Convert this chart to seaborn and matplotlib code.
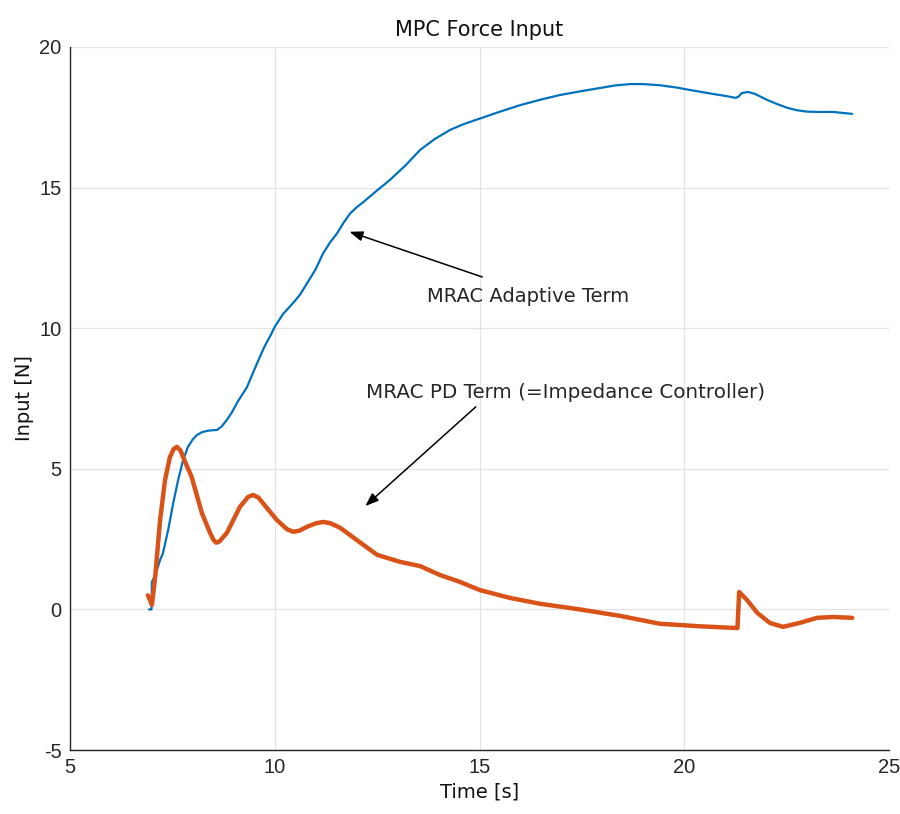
import pandas as pd
import numpy as np
import seaborn as sns
import matplotlib.pyplot as plt

# 適応項 (MRAC Adaptive Term)
adaptive_t = [6.93, 6.99, 7.0, 7.1, 7.2, 7.27, 7.4, 7.52, 7.64, 7.76, 7.88, 8.0, 8.1, 8.22,
              8.35, 8.47, 8.59, 8.7, 8.83, 8.95, 9.1, 9.32, 9.57, 9.75, 9.9, 10.0, 10.2,
              10.45, 10.62, 10.79, 11.0, 11.18, 11.35, 11.52, 11.68, 11.84, 12.0, 12.15,
              12.5, 12.81, 13.2, 13.55, 13.9, 14.28, 14.6, 15.0, 15.5, 15.99, 16.5, 16.96,
              17.45, 17.94, 18.3, 18.67, 19.0, 19.4, 19.8, 20.14, 20.7, 21.0, 21.26, 21.33,
              21.4, 21.56, 21.73, 21.88, 22.02, 22.25, 22.51, 22.75, 23.0, 23.3, 23.63,
              23.9, 24.1]
adaptive_u = [0.0, 0.0, 0.97, 1.3, 1.76, 2.0, 2.85, 3.78, 4.6, 5.3, 5.78, 6.05, 6.2, 6.3,
              6.35, 6.37, 6.38, 6.5, 6.74, 7.0, 7.4, 7.9, 8.76, 9.35, 9.75, 10.05, 10.5,
              10.9, 11.2, 11.6, 12.1, 12.66, 13.05, 13.37, 13.75, 14.08, 14.3, 14.47,
              14.9, 15.27, 15.8, 16.34, 16.72, 17.05, 17.25, 17.45, 17.7, 17.93, 18.13,
              18.29, 18.42, 18.54, 18.63, 18.68, 18.68, 18.64, 18.56, 18.47, 18.33, 18.26,
              18.19, 18.24, 18.36, 18.4, 18.33, 18.22, 18.12, 17.98, 17.84, 17.75, 17.7,
              17.69, 17.69, 17.65, 17.62]

# PD項 (MRAC PD Term)
pd_t = [6.9, 6.95, 7.0, 7.08, 7.2, 7.32, 7.44, 7.53, 7.61, 7.7, 7.76, 7.97, 8.22, 8.42,
        8.5, 8.57, 8.65, 8.83, 9.15, 9.35, 9.47, 9.6, 9.71, 10.05, 10.3, 10.45, 10.6,
        10.79, 11.0, 11.18, 11.35, 11.6, 12.0, 12.5, 13.06, 13.55, 14.04, 14.52, 15.0,
        15.74, 16.48, 17.45, 18.43, 19.4, 20.38, 21.24, 21.3, 21.34, 21.53, 21.78, 22.09,
        22.41, 22.82, 23.24, 23.63, 24.1]
pd_u = [0.5, 0.35, 0.16, 1.16, 3.18, 4.6, 5.42, 5.7, 5.78, 5.65, 5.42, 4.71, 3.43, 2.72,
        2.48, 2.37, 2.42, 2.72, 3.65, 4.0, 4.07, 3.98, 3.78, 3.18, 2.85, 2.76, 2.8,
        2.94, 3.06, 3.11, 3.07, 2.9, 2.47, 1.94, 1.69, 1.54, 1.22, 0.98, 0.69,
        0.41, 0.2, 0.0, -0.23, -0.51, -0.6, -0.66, -0.66, 0.62, 0.34, -0.12, -0.48,
        -0.62, -0.48, -0.3, -0.27, -0.3]

x_ticks = [5, 10, 15, 20, 25]
y_ticks = [-5, 0, 5, 10, 15, 20]

df_a = pd.DataFrame({"t": adaptive_t, "u": adaptive_u})
df_p = pd.DataFrame({"t": pd_t, "u": pd_u})

sns.set_style("white")
plt.rcParams["font.family"] = ["DejaVu Sans"]

fig = plt.figure(figsize=(9, 8.14), dpi=100)
ax = fig.add_axes([0.0778, 0.0786, 0.91, 0.8637])

sns.lineplot(data=df_a, x="t", y="u", ax=ax, color="#0072BD", linewidth=1.6,
             sort=False, estimator=None)
sns.lineplot(data=df_p, x="t", y="u", ax=ax, color="#D95319", linewidth=3.2,
             sort=False, estimator=None)

ax.set_xlim(5, 25)
ax.set_ylim(-5, 20)
ax.set_xticks(x_ticks)
ax.set_yticks(y_ticks)
ax.set_xticklabels([str(v) for v in x_ticks], family="Liberation Sans", fontsize=14.5, color="#262626")
ax.set_yticklabels([str(v) for v in y_ticks], family="Liberation Sans", fontsize=14.5, color="#262626")
ax.tick_params(direction="in", length=7, width=1, color="#262626", pad=6)
ax.grid(True, color="#e3e3e3", linewidth=0.9)
ax.set_axisbelow(True)
for s in ["top", "right"]:
    ax.spines[s].set_visible(False)
for s in ["left", "bottom"]:
    ax.spines[s].set_color("#262626")
    ax.spines[s].set_linewidth(1.0)

ax.set_title("MPC Force Input", fontsize=15, color="#111111", pad=8)
ax.set_xlabel("Time [s]", fontsize=14, color="#111111")
ax.set_ylabel("Input [N]", fontsize=14, color="#111111")

arrow = dict(arrowstyle="-|>,head_length=0.8,head_width=0.3", color="black", lw=1.1)
ax.annotate("", xy=(11.76, 13.46), xytext=(15.13, 11.79), arrowprops=arrow)
ax.text(16.18, 11.14, "MRAC Adaptive Term", fontsize=14, ha="center", va="center")
ax.annotate("", xy=(12.16, 3.61), xytext=(14.96, 7.27), arrowprops=arrow)
ax.text(17.09, 7.7, "MRAC PD Term (=Impedance Controller)", fontsize=14.3, ha="center", va="center")

fig.savefig("out.png", dpi=100)
